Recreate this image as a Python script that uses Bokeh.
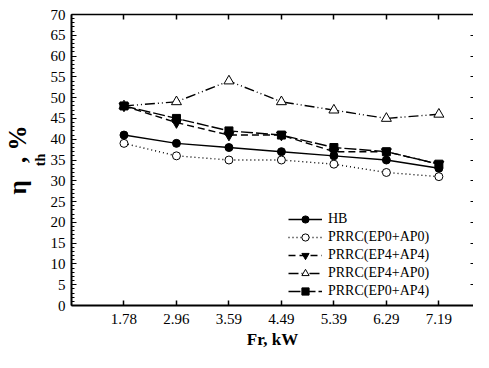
import numpy as np
from bokeh.plotting import figure
from bokeh.models import (LinearAxis, FixedTicker, Range1d, Legend, LegendItem, Title)
from bokeh.embed import file_html
from bokeh.resources import INLINE

# ---- data ----
power_labels = ["1.78", "2.96", "3.59", "4.49", "5.39", "6.29", "7.19"]
hb = [41, 39, 38, 37, 36, 35, 33]
ep0_ap0 = [39, 36, 35, 35, 34, 32, 31]
ep4_ap4 = [48, 44, 41, 41, 37, 37, 34]
ep4_ap0 = [48, 49, 54, 49, 47, 45, 46]
ep0_ap4 = [48, 45, 42, 41, 38, 37, 34]
y_ticks = list(range(0, 71, 5))

xpos = list(np.arange(1, len(power_labels) + 1))

FONT = "Liberation Serif"

p = figure(width=473, height=352, output_backend="svg", toolbar_location=None,
           x_range=Range1d(0, 7.66), y_range=Range1d(0, 70),
           min_border_left=71, min_border_top=14, min_border_bottom=47,
           min_border_right=0, x_axis_location=None, y_axis_location=None)
p.outline_line_color = None
p.xgrid.visible = False
p.ygrid.visible = False
p.background_fill_color = "white"
p.border_fill_color = "white"

# bottom axis
xb = LinearAxis(ticker=FixedTicker(ticks=xpos),
                major_label_overrides={int(x): l for x, l in zip(xpos, power_labels)})
xb.axis_label = "Fr, kW"
xb.axis_label_text_font = FONT
xb.axis_label_text_font_style = "bold"
xb.axis_label_text_font_size = "17px"
xb.axis_label_text_color = "black"
xb.axis_label_standoff = 3
xb.major_label_text_font = FONT
xb.major_label_text_font_size = "15px"
xb.major_label_text_color = "black"
xb.major_label_standoff = 8
xb.major_tick_in = 5
xb.major_tick_out = 0
xb.minor_tick_in = 0
xb.minor_tick_out = 0
xb.axis_line_width = 2
xb.major_tick_line_width = 1.5
p.add_layout(xb, "below")

# top axis
xt = LinearAxis(ticker=FixedTicker(ticks=xpos),
                major_label_overrides={int(x): "" for x in xpos})
xt.major_tick_in = 5
xt.major_tick_out = 0
xt.minor_tick_in = 0
xt.minor_tick_out = 0
xt.major_label_standoff = 0
xt.major_label_text_font_size = "1px"
xt.axis_line_width = 1.5
xt.major_tick_line_width = 1.5
p.add_layout(xt, "above")

# left axis
yl = LinearAxis(ticker=FixedTicker(ticks=y_ticks, minor_ticks=list(range(0, 71))))
yl.major_label_text_font = FONT
yl.major_label_text_font_size = "15px"
yl.major_label_text_color = "black"
yl.major_label_standoff = 6
yl.major_tick_in = 5
yl.major_tick_out = 0
yl.minor_tick_in = 3
yl.minor_tick_out = 0
yl.axis_line_width = 2
p.add_layout(yl, "left")

# y axis title: eta with subscript th, then ", %"
t_sub = Title(text="th", text_font=FONT, text_font_style="bold", text_color="black",
              text_font_size="14px", align="center", offset=-10, standoff=0)
p.add_layout(t_sub, "left")
t_main = Title(text="η\u2002\u2009, %", text_font=FONT, text_font_style="bold",
               text_color="black", text_font_size="25px", align="center",
               offset=-8, standoff=0)
p.add_layout(t_main, "left")

# right axis (dotted)
yr = LinearAxis(ticker=FixedTicker(ticks=y_ticks, minor_ticks=[]),
                major_label_overrides={t: "" for t in y_ticks})
yr.axis_line_dash = "1 2"
yr.axis_line_width = 1
yr.major_tick_in = 3
yr.major_tick_out = 0
yr.minor_tick_in = 0
yr.minor_tick_out = 0
yr.major_label_standoff = 0
yr.major_label_text_font_size = "1px"
p.add_layout(yr, "right")

lw = 1.4
series = [
    ("HB", hb, "solid", "circle", "black", 8),
    ("PRRC(EP0+AP0)", ep0_ap0, "1 3", "circle", "white", 8),
    ("PRRC(EP4+AP4)", ep4_ap4, "7 4", "inverted_triangle", "black", 10),
    ("PRRC(EP4+AP0)", ep4_ap0, "10 3 1 3 1 3", "triangle", "white", 10),
    ("PRRC(EP0+AP4)", ep0_ap4, "12 3", "square", "black", 8),
]
items = []
for name, vals, dash, marker, fill, size in series:
    r1 = p.line(xpos, vals, line_color="black", line_width=lw, line_dash=dash)
    r2 = p.scatter(xpos, vals, marker=marker, size=size, fill_color=fill,
                   line_color="black", line_width=1)
    items.append(LegendItem(label=name, renderers=[r1, r2]))

legend = Legend(items=items, location=(217, 5))
legend.background_fill_alpha = 0
legend.border_line_color = None
legend.label_text_font = FONT
legend.label_text_font_size = "14px"
legend.label_text_color = "black"
legend.glyph_width = 34
legend.glyph_height = 18
legend.label_height = 18
legend.label_standoff = 6
legend.spacing = 0
legend.padding = 0
legend.margin = 0
p.add_layout(legend, "center")

open("out.html", "w").write(file_html(p, INLINE))
